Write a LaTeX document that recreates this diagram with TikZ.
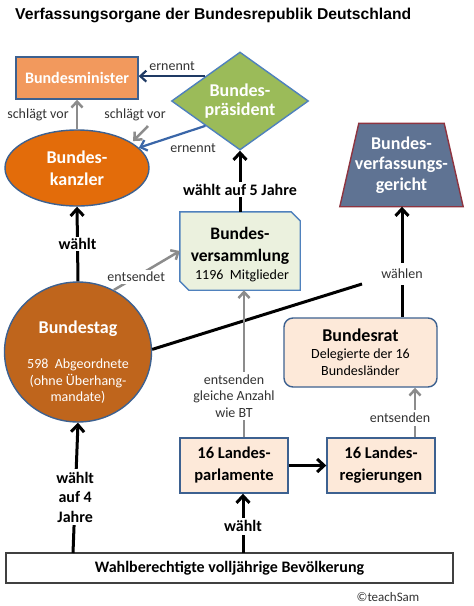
\documentclass[tikz,border=0pt]{standalone}
\usepackage{fontspec}
\setmainfont{Carlito}
\newfontfamily\titlefont{Liberation Sans}
\usetikzlibrary{shapes.geometric,arrows.meta,backgrounds}
\definecolor{minfill}{HTML}{F2995D}
\definecolor{kanzfill}{HTML}{E36C0A}
\definecolor{tagfill}{HTML}{BF651C}
\definecolor{praesfill}{HTML}{9BBB59}
\definecolor{gerfill}{HTML}{5F7393}
\definecolor{gerline}{HTML}{8E3440}
\definecolor{bvfill}{HTML}{EBF1DE}
\definecolor{peach}{HTML}{FDE9D9}
\definecolor{boxline}{HTML}{3D6190}
\definecolor{lblue}{HTML}{4F81BD}
\definecolor{navy}{HTML}{1F3A64}
\definecolor{midblue}{HTML}{3A66A8}
\definecolor{arrgray}{HTML}{8C8C8C}
\definecolor{lbltext}{HTML}{333333}
\begin{document}
\begin{tikzpicture}[x=1pt,y=-1pt,
  shapebox/.style={draw=boxline,line width=1.4pt,inner sep=0pt,align=center},
  whitetext/.style={text=white,font=\fontsize{18}{20}\selectfont\bfseries},
  blacktext/.style={text=black,font=\fontsize{17}{21}\selectfont\bfseries},
  blackarr/.style={line width=3pt,-{Straight Barb[length=7pt,width=13pt]}},
  grayarr/.style={draw=arrgray,line width=2.5pt,-{Straight Barb[length=6pt,width=11pt]}},
  bluearr/.style={line width=2.2pt,-{Straight Barb[length=6pt,width=11pt]}},
  thinlbl/.style={text=lbltext,font=\fontsize{14}{16.5}\selectfont,align=center,inner sep=1pt},
  boldlbl/.style={text=black,font=\fontsize{16}{19.5}\selectfont\bfseries,align=center,inner sep=1pt},
  wbg/.style={fill=white}
]
\begin{scope}[on background layer]
\fill[white] (0,0) rectangle (474,606);
\end{scope}
\useasboundingbox (0,0) rectangle (474,606);

\node[anchor=west,inner sep=0pt,font=\titlefont\bfseries\fontsize{15.7}{18}\selectfont] (title) at (15,15)
  {Verfassungsorgane der Bundesrepublik Deutschland};

% shapes
\node[shapebox,rectangle,fill=minfill,minimum width=122pt,minimum height=42pt,
  text=white,font=\fontsize{16}{19}\selectfont\bfseries] (minister) at (77,78) {Bundesminister};
\node[shapebox,diamond,aspect=1.4,draw=lblue,fill=praesfill,minimum width=137pt,minimum height=98pt,
  whitetext,font=\fontsize{18}{19}\selectfont\bfseries] (praes) at (240,101) {Bundes-\\präsident};
\node[shapebox,ellipse,fill=kanzfill,minimum width=144pt,minimum height=76pt,
  whitetext,font=\fontsize{18}{22}\selectfont\bfseries] (kanzler) at (77,168) {Bundes-\\kanzler};
\node[shapebox,ellipse,fill=tagfill,minimum width=147pt,minimum height=140pt] (bundestag) at (78,352) {};
\node[text=white,inner sep=0pt,font=\fontsize{18}{20}\selectfont\bfseries] (bundestagtitle) at (78,329) {Bundestag};
\node[text=white,inner sep=0pt,align=center,font=\fontsize{14}{16.5}\selectfont] (bundestagsub) at (78,381.5)
  {598\ \ Abgeordnete\\(ohne Überhang-\\mandate)};
\node[inner sep=0pt,align=center,minimum width=123pt,minimum height=83pt,whitetext,
  font=\fontsize{18}{20.5}\selectfont\bfseries]
  (bverfg) at (401.5,165) {Bundes-\\verfassungs-\\gericht};
\begin{scope}[on background layer]
\draw[draw=gerline,line width=1.4pt,fill=gerfill] (bverfg.south west) -- ([xshift=19pt]bverfg.north west)
  -- ([xshift=-19pt]bverfg.north east) -- (bverfg.south east) -- cycle;
\end{scope}
\node[draw=none,rectangle,inner sep=0pt,minimum width=120pt,minimum height=78pt] (bv) at (240,251) {};
\begin{scope}[on background layer]
\draw[draw=lblue,line width=1.4pt,fill=bvfill] (bv.north west) -- ([xshift=-9pt]bv.north east)
  -- ([yshift=-9pt]bv.north east) -- (bv.south east) -- ([xshift=9pt]bv.south west)
  -- ([yshift=9pt]bv.south west) -- cycle;
\end{scope}
\node[text=black,inner sep=0pt,align=center,font=\fontsize{17.5}{22}\selectfont\bfseries] (bvtitle) at (240,246)
  {Bundes-\\versammlung};
\node[text=black,inner sep=0pt,font=\fontsize{14}{16}\selectfont] (bvsub) at (242,276) {1196\ \ Mitglieder};
\node[shapebox,rectangle,rounded corners=9pt,fill=peach,minimum width=153pt,minimum height=69pt,
  text=black,font=\fontsize{14}{17}\selectfont] (bundesrat) at (360.5,352.5)
  {{\fontsize{18}{20}\selectfont\bfseries Bundesrat}\\Delegierte der 16\\Bundesländer};
\node[shapebox,rectangle,fill=peach,minimum width=108pt,minimum height=55pt,blacktext,
  font=\fontsize{16.5}{22}\selectfont\bfseries] (lparl) at (234,465.5) {16 Landes-\\parlamente};
\node[shapebox,rectangle,fill=peach,minimum width=108pt,minimum height=55pt,blacktext,
  font=\fontsize{16.5}{22}\selectfont\bfseries] (lreg) at (381,465.5) {16 Landes-\\regierungen};
\node[shapebox,rectangle,draw=black!75,line width=1.2pt,fill=white,minimum width=447pt,minimum height=30pt,
  text=black,font=\fontsize{16}{19}\selectfont\bfseries] (bev) at (229.5,568)
  {Wahlberechtigte volljährige Bevölkerung};
\node[text=lbltext,font=\fontsize{13}{15}\selectfont,inner sep=0pt] (copy) at (388,597) {©teachSam};

% connectors
\draw[bluearr,draw=navy] (praes.north west) -- (minister.east |- praes.north west)
  node[midway,above=3pt,thinlbl] (lern1) {ernennt};
\draw[bluearr,draw=midblue] (praes.south west) -- (kanzler);
\node[thinlbl] (lern2) at (193,148) {ernennt};

\draw[grayarr] (kanzler.north) -- (minister.south);
\node[thinlbl] (lsv1) at (38,115) {schlägt vor};
\coordinate (svstart) at (148,126);
\draw[grayarr,shorten >=2pt] (svstart) -- (kanzler.25);
\node[thinlbl] (lsv2) at (135,115) {schlägt vor};

\draw[blackarr] (bundestag.north) -- (kanzler.south)
  node[pos=0.5,boldlbl,wbg] (lw1) {wählt};
\coordinate (bevtl) at (73,553);
\draw[blackarr] (bevtl) -- (bundestag.south)
  node[pos=0.43,boldlbl,wbg,inner sep=3pt] (lw4) {wählt\\auf 4\\Jahre};

\draw[grayarr] (bundestag.60) -- (bv.west)
  node[pos=0.34,thinlbl,wbg,inner sep=2pt] (lent) {entsendet};

\draw[blackarr] (bv.north) -- (praes.south)
  node[pos=0.36,boldlbl,wbg,inner sep=2pt] (lw5) {wählt auf 5 Jahre};

\coordinate (wjoin) at (362,284);
\draw[line width=3pt] (bundestag.2) -- (wjoin);
\draw[blackarr] (bundesrat.north -| 402,0) -- (bverfg.south -| 402,0)
  node[pos=0.39,thinlbl,wbg,inner sep=6pt] (lwaehlen) {wählen};

\draw[grayarr] (lparl.north -| 244,0) -- (bv.south -| 244,0);
\node[thinlbl,wbg,inner sep=3pt] (lgleich) at (234,396) {entsenden\\gleiche Anzahl\\wie BT};

\draw[grayarr] (lreg.north -| 415,0) -- (bundesrat.south -| 415,0);
\node[thinlbl,wbg,inner sep=3pt] (lents) at (400,418) {entsenden};

\draw[blackarr] (lparl.east) -- (lreg.west);
\coordinate (bevmid) at (243,553);
\draw[blackarr] (bevmid) -- (lparl.south -| 243,0)
  node[pos=0.45,boldlbl,wbg,inner sep=3pt] (lw2) {wählt};
\end{tikzpicture}
\end{document}
